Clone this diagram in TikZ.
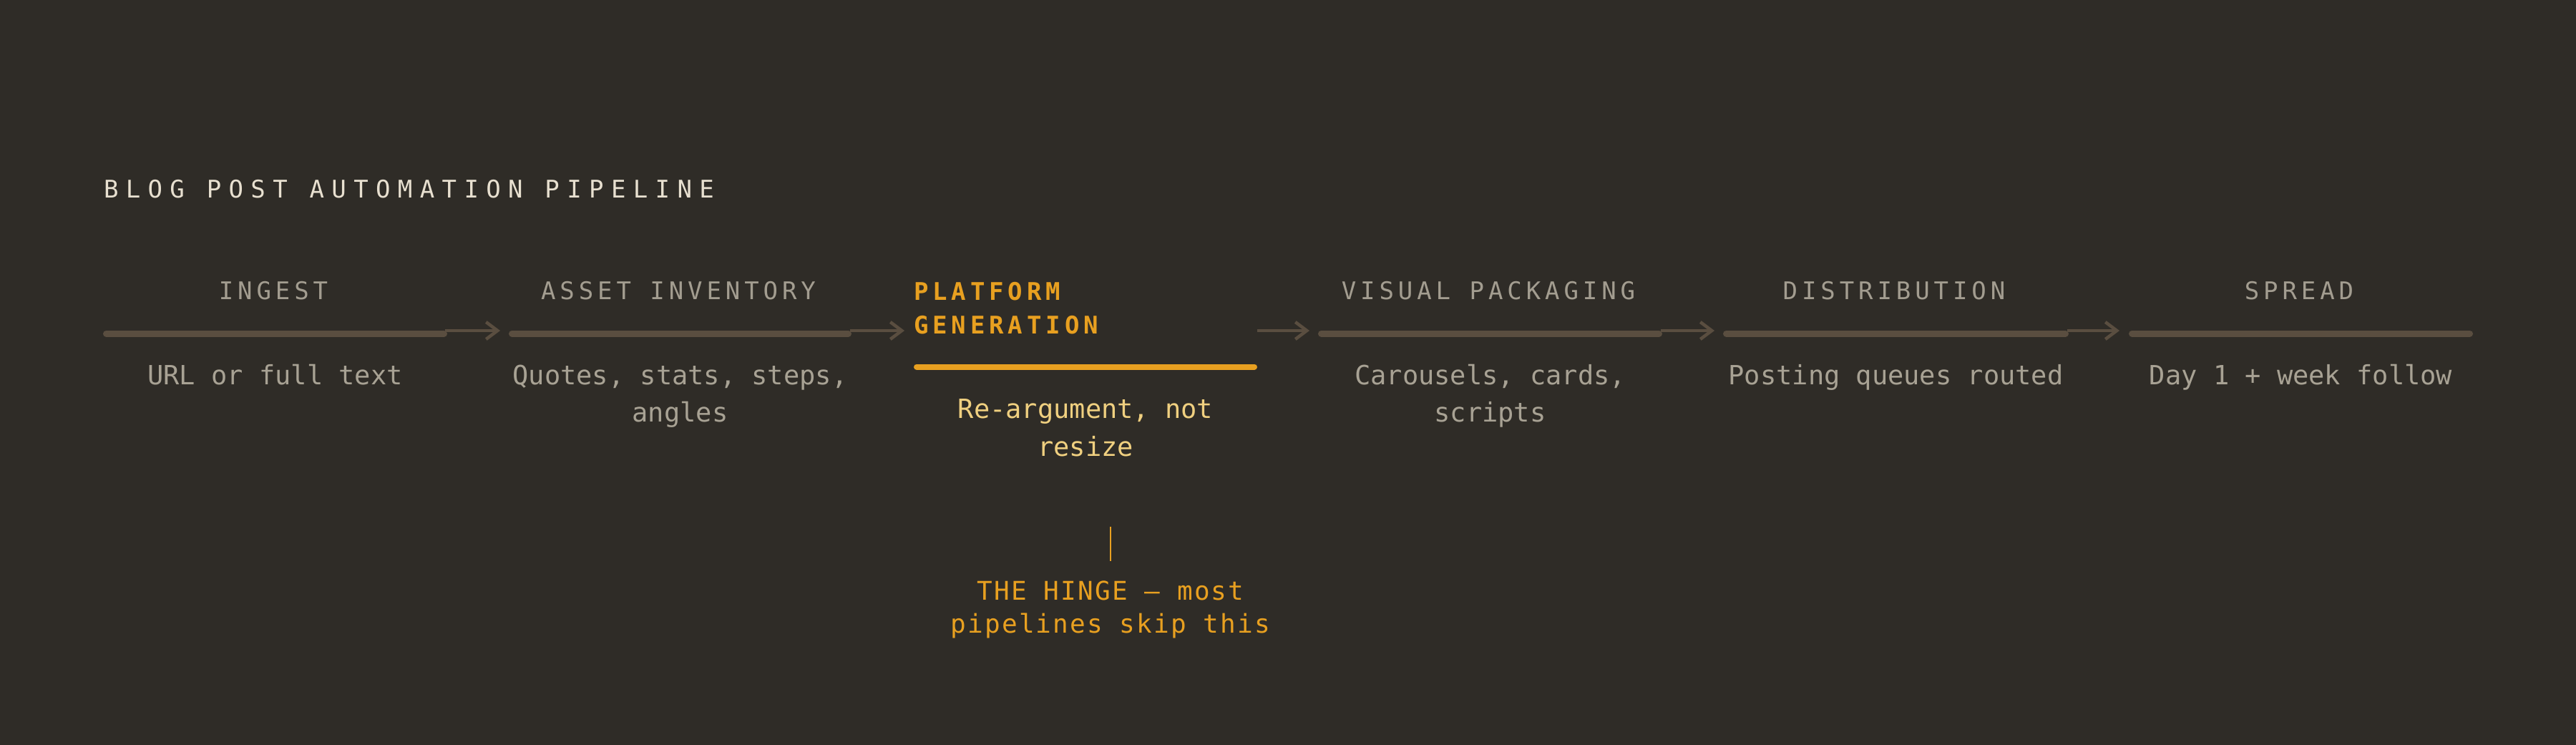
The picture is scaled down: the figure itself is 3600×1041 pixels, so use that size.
\documentclass[tikz,border=0pt]{standalone}
\usepackage{fontspec}
\usetikzlibrary{arrows.meta}
\newfontfamily\plainmono{DejaVu Sans Mono}
\newfontfamily\titlemono[LetterSpace=30.5]{DejaVu Sans Mono}
\newfontfamily\stagemono[LetterSpace=17.4]{DejaVu Sans Mono}
\newfontfamily\hingemono[LetterSpace=6]{DejaVu Sans Mono}
\definecolor{bgc}{HTML}{2F2C27}
\definecolor{titlec}{HTML}{E8E0D0}
\definecolor{stagec}{HTML}{A39D90}
\definecolor{descc}{HTML}{A8A294}
\definecolor{barc}{HTML}{5A4E40}
\definecolor{orangec}{HTML}{E8A020}
\definecolor{goldc}{HTML}{F0D080}
\tikzset{
  txt/.style={inner sep=0pt, outer sep=0pt},
  maintitle/.style={txt, anchor=base west, text=titlec, font=\titlemono\fontsize{34}{40}\selectfont},
  stagetitle/.style={txt, anchor=base, text=stagec, font=\stagemono\fontsize{34}{40}\selectfont},
  hottitle/.style={txt, anchor=base west, align=left, text=orangec, font=\stagemono\bfseries\fontsize{34}{47}\selectfont},
  desc/.style={txt, anchor=base, align=center, text=descc, font=\plainmono\fontsize{37}{52}\selectfont},
  hotdesc/.style={txt, anchor=base, align=center, text=goldc, font=\plainmono\fontsize{37}{53}\selectfont},
  hinge/.style={txt, anchor=base, align=center, text=orangec, font=\hingemono\fontsize{36}{46}\selectfont},
  bar/.style={line width=9pt, line cap=round, draw=barc},
  hotbar/.style={line width=8pt, line cap=round, draw=orangec},
  flow/.style={line width=4.5pt, draw=barc, -{Straight Barb[length=16pt,width=24pt,line width=4.5pt]}},
  tick/.style={line width=2.5pt, draw=orangec}
}
\begin{document}
\begin{tikzpicture}[x=1pt,y=1pt]
\fill[bgc] (0,0) rectangle (3600,-1041);
\useasboundingbox (0,0) rectangle (3600,-1041);

\node[maintitle] (title) at (145,-276) {BLOG POST AUTOMATION PIPELINE};

% bar end points
\coordinate (b1w) at (148.5,-466);  \coordinate (b1e) at (620.5,-466);
\coordinate (b2w) at (715.5,-466);  \coordinate (b2e) at (1185.5,-466);
\coordinate (b3w) at (1281,-512.5); \coordinate (b3e) at (1753,-512.5);
\coordinate (b4w) at (1846.5,-466); \coordinate (b4e) at (2318.5,-466);
\coordinate (b5w) at (2412.5,-466); \coordinate (b5e) at (2886.5,-466);
\coordinate (b6w) at (2979.5,-466); \coordinate (b6e) at (3451.5,-466);

% arrow end points
\coordinate (a1s) at (622,-462);  \coordinate (a1e) at (699,-462);
\coordinate (a2s) at (1188,-462); \coordinate (a2e) at (1264,-462);
\coordinate (a3s) at (1757,-462); \coordinate (a3e) at (1830,-462);
\coordinate (a4s) at (2321,-462); \coordinate (a4e) at (2396,-462);
\coordinate (a5s) at (2889,-462); \coordinate (a5e) at (2962,-462);

\draw[bar] (b1w) -- (b1e);
\draw[bar] (b2w) -- (b2e);
\draw[hotbar] (b3w) -- (b3e);
\draw[bar] (b4w) -- (b4e);
\draw[bar] (b5w) -- (b5e);
\draw[bar] (b6w) -- (b6e);

\draw[flow] (a1s) -- (a1e);
\draw[flow] (a2s) -- (a2e);
\draw[flow] (a3s) -- (a3e);
\draw[flow] (a4s) -- (a4e);
\draw[flow] (a5s) -- (a5e);

% stage titles
\node[stagetitle] (t1) at (382,-418) {INGEST};
\node[stagetitle] (t2) at (948,-418) {ASSET INVENTORY};
\node[hottitle]   (t3) at (1277,-466) {PLATFORM\\GENERATION};
\node[stagetitle] (t4) at (2080,-418) {VISUAL PACKAGING};
\node[stagetitle] (t5) at (2647,-418) {DISTRIBUTION};
\node[stagetitle] (t6) at (3213,-418) {SPREAD};

% descriptions (multi-line nodes are placed by their last baseline)
\node[desc] (d1) at (384.5,-537) {URL or full text};
\node[desc] (d2) at (950.5,-589) {Quotes, stats, steps,\\angles};
\node[hotdesc] (d3) at (1517,-637) {Re-argument, not\\resize};
\node[desc] (d4) at (2082.5,-589) {Carousels, cards,\\scripts};
\node[desc] (d5) at (2649.5,-537) {Posting queues routed};
\node[desc] (d6) at (3215.5,-537) {Day 1 + week follow};

% hinge annotation
\coordinate (h1) at (1552,-736);
\coordinate (h2) at (1552,-784);
\draw[tick] (h1) -- (h2);
\node[hinge] (hn) at (1552,-884) {THE HINGE — most\\pipelines skip this};
\end{tikzpicture}
\end{document}
